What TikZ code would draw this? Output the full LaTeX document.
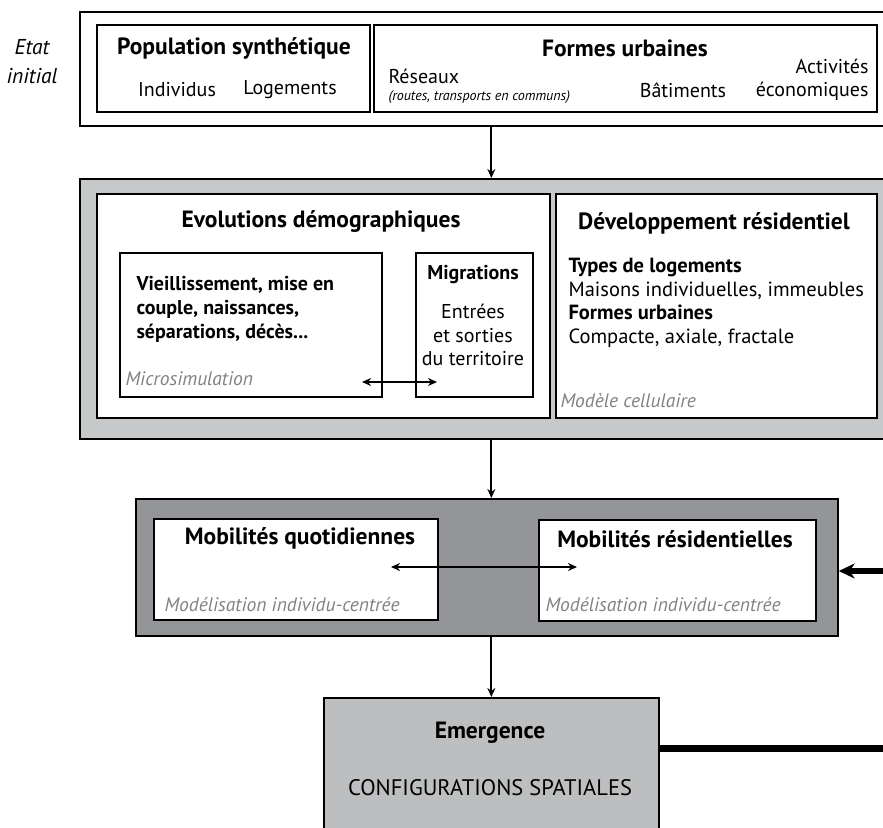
\documentclass[tikz,border=0pt]{standalone}
\usepackage{fontspec}
\setmainfont{PT Sans}
\usetikzlibrary{positioning}
\usetikzlibrary{arrows.meta}
\definecolor{lightgrey}{HTML}{C7C8CA}
\definecolor{darkgrey}{HTML}{939598}
\definecolor{emgrey}{HTML}{BCBEC0}
\definecolor{notegrey}{HTML}{808285}
\begin{document}
\begin{tikzpicture}[x=1pt,y=-1pt,
            font=\fontsize{20}{23.5}\selectfont,
            frame/.style = {draw,line width=1.7pt,anchor=north west,
                inner sep=0pt},
            title/.style = {font=\fontsize{23.5}{26}\selectfont\bfseries},
            note/.style = {font=\fontsize{19.5}{22}\selectfont\itshape,
                text=notegrey,anchor=west},
            arr/.style = {line width=2pt,-{Stealth[length=9pt,width=8pt]}},
            both/.style = {line width=2pt,
                {Stealth[length=9pt,width=8pt]}-{Stealth[length=9pt,width=8pt]}}]
            \useasboundingbox (0,0) rectangle (883,827);
            \clip (0,0) rectangle (883,827);
            % etat initial
            \node[frame,minimum width=830,minimum height=114](init) at (79,11) {};
            \node[frame,fill=white,minimum width=273,minimum height=87](pop) at (96,24) {};
            \node[frame,fill=white,minimum width=503,minimum height=87](form) at (373,24) {};
            \node[font=\fontsize{21.5}{29}\selectfont\itshape,align=center](etat) at (32,62) {Etat\\initial};
            \node[title](popt) at (234,48) {Population synthétique};
            \node(indiv) at (177,90) {Individus};
            \node(loge) at (290,90) {Logements};
            \node[title](formt) at (625,48) {Formes urbaines};
            \node[anchor=west](res) at (385,76) {Réseaux};
            \node[anchor=west,font=\fontsize{14}{16}\selectfont\itshape](resd) at (385,97)
                {(routes, transports en communs)};
            \node(bati) at (683,90) {Bâtiments};
            \node[anchor=east,align=right](activ) at (872,80) {Activités\\économiques};
            % evolutions
            \node[frame,fill=lightgrey,minimum width=830,minimum height=260](evol) at (79,178) {};
            \node[frame,fill=white,minimum width=453,minimum height=224](demo) at (96,193) {};
            \node[frame,fill=white,minimum width=262,minimum height=144](vieil) at (119,252) {};
            \node[frame,fill=white,minimum width=117,minimum height=144](migr) at (415,252) {};
            \node[frame,fill=white,minimum width=321,minimum height=224](dev) at (555,193) {};
            \node[title](demot) at (321,222) {Evolutions démographiques};
            \node[anchor=west,align=left,font=\fontsize{20}{24}\selectfont\bfseries](vieilt)
                at (133,309) {Vieillissement, mise en\\couple, naissances,\\séparations, décès...};
            \node[note](micro) at (122,379) {Microsimulation};
            \node[font=\fontsize{20}{24}\selectfont\bfseries](migrt) at (473,275) {Migrations};
            \node[align=center](migrd) at (473,335) {Entrées\\et sorties\\du territoire};
            \node[title](devt) at (714,223) {Développement résidentiel};
            \node[anchor=west,align=left,font=\fontsize{20.5}{23.5}\selectfont](devd) at (565,303)
                {\textbf{Types de logements}\\Maisons individuelles, immeubles\\
                 \textbf{Formes urbaines}\\Compacte, axiale, fractale};
            \node[note](cell) at (557,401) {Modèle cellulaire};
            \coordinate (m1) at (362,382);
            \coordinate (m2) at (437,382);
            % mobilites
            \node[frame,fill=darkgrey,minimum width=702,minimum height=137](mob) at (135,498) {};
            \node[frame,fill=white,minimum width=284,minimum height=101](quot) at (153,518) {};
            \node[frame,fill=white,minimum width=277,minimum height=101](resid) at (538,519) {};
            \node[title](quott) at (300,538) {Mobilités quotidiennes};
            \node[title](residt) at (675,539) {Mobilités résidentielles};
            \node[note](quotn) at (161,605) {Modélisation individu-centrée};
            \node[note](residn) at (542,605) {Modélisation individu-centrée};
            \coordinate (q1) at (391,567);
            \coordinate (q2) at (577,567);
            \coordinate (retour) at (900,571);
            % emergence
            \node[frame,fill=emgrey,minimum width=335,minimum height=160](emerg) at (323,697) {};
            \node[title](emergt) at (490,733) {Emergence};
            \node[font=\fontsize{22.5}{26}\selectfont](config) at (490,788) {CONFIGURATIONS SPATIALES};
            \coordinate (sortie) at (900,748);
            % connexions
            \draw[arr] (init.south -| emerg.north) -- (evol.north -| emerg.north);
            \draw[arr] (evol.south -| emerg.north) -- (mob.north -| emerg.north);
            \draw[arr] (mob.south -| emerg.north) -- (emerg.north);
            \draw[both] (m1) -- (m2);
            \draw[both] (q1) -- (q2);
            \draw[line width=6pt,-{Stealth[length=16pt,width=15pt]}] (retour) -- (retour -| mob.east);
            \draw[line width=7pt] (sortie -| emerg.east) -- (sortie);
\end{tikzpicture}
\end{document}
